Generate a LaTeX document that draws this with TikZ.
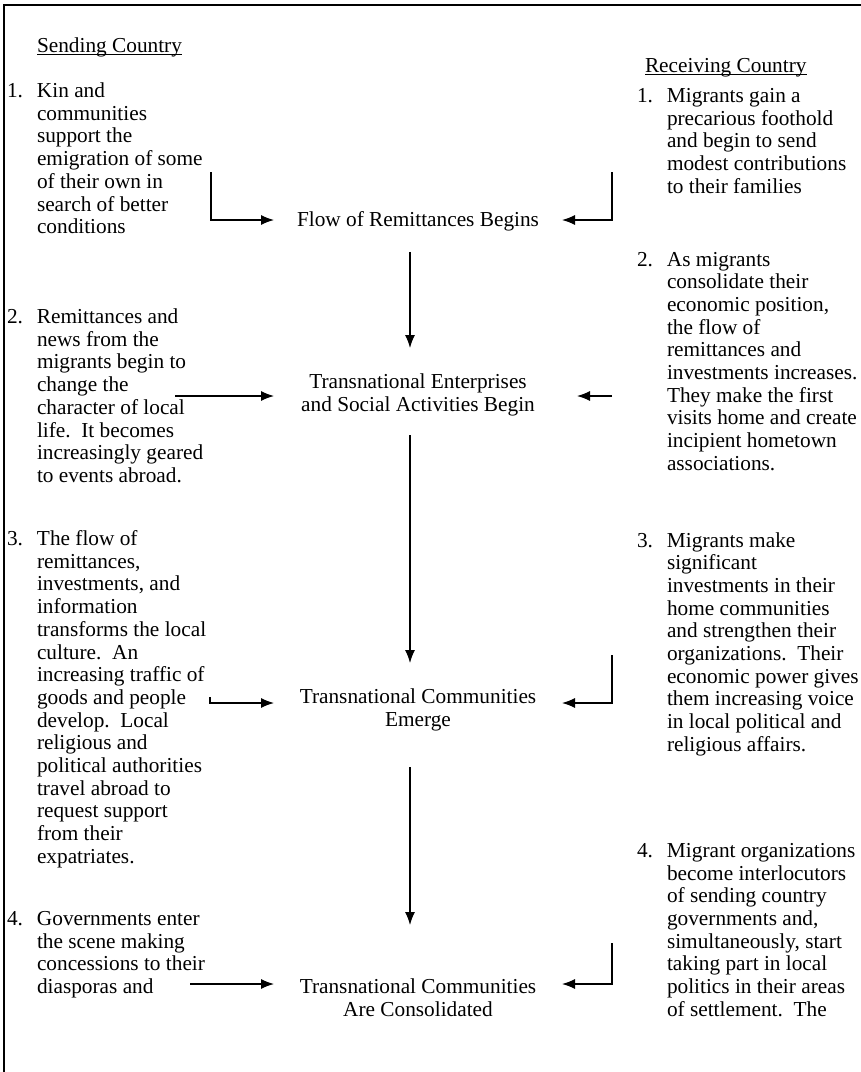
\documentclass[tikz,border=0pt]{standalone}
\usepackage{fontspec}
\setmainfont{Liberation Serif}
\usetikzlibrary{arrows.meta}
\newcommand{\bodyfont}{\fontsize{21.3}{22.7}\selectfont}
\begin{document}
\begin{tikzpicture}[x=1pt,y=-1pt,
  txt/.style={inner sep=0pt, outer sep=0pt, anchor=base west, font=\bodyfont},
  ctr/.style={inner sep=0pt, outer sep=0pt, anchor=base, minimum width=288pt, font=\bodyfont},
  arr/.style={line width=1.2pt, -{Latex[length=13pt,width=10pt]}},
  frameline/.style={line width=2pt}]
\useasboundingbox (0,0) rectangle (861,1072);
\fill[white] (0,0) rectangle (861,1072);
\draw[frameline] (4,1072) -- (4,5) -- (861,5);

% headings
\node[txt] (sc) at (37,52) {Sending Country};
\draw[line width=0.9pt] ([yshift=-2.5pt]sc.base west) -- ([yshift=-2.5pt]sc.base east);
\node[txt] (rc) at (645,72) {Receiving Country};
\draw[line width=0.9pt] ([yshift=-2.5pt]rc.base west) -- ([yshift=-2.5pt]rc.base east);

% left column
\node[txt] (l1) at (7,97.5) {\begin{tabular}[t]{@{}p{30pt}@{}l@{}}
1. & Kin and\\ & communities\\ & support the\\ & emigration of some\\ & of their own in\\ & search of better\\ & conditions\end{tabular}};
\node[txt] (l2) at (7,323.5) {\begin{tabular}[t]{@{}p{30pt}@{}l@{}}
2. & Remittances and\\ & news from the\\ & migrants begin to\\ & change the\\ & character of local\\ & life.\ \ It becomes\\ & increasingly geared\\ & to events abroad.\end{tabular}};
\node[txt] (l3) at (7,545.5) {\begin{tabular}[t]{@{}p{30pt}@{}l@{}}
3. & The flow of\\ & remittances,\\ & investments, and\\ & information\\ & transforms the local\\ & culture.\ \ An\\ & increasing traffic of\\ & goods and people\\ & develop.\ \ Local\\ & religious and\\ & political authorities\\ & travel abroad to\\ & request support\\ & from their\\ & expatriates.\end{tabular}};
\node[txt] (l4) at (7,925.5) {\begin{tabular}[t]{@{}p{30pt}@{}l@{}}
4. & Governments enter\\ & the scene making\\ & concessions to their\\ & diasporas and\end{tabular}};

% right column
\node[txt] (r1) at (637,102.5) {\begin{tabular}[t]{@{}p{30pt}@{}l@{}}
1. & Migrants gain a\\ & precarious foothold\\ & and begin to send\\ & modest contributions\\ & to their families\end{tabular}};
\node[txt] (r2) at (637,266) {\begin{tabular}[t]{@{}p{30pt}@{}l@{}}
2. & As migrants\\ & consolidate their\\ & economic position,\\ & the flow of\\ & remittances and\\ & investments increases.\\ & They make the first\\ & visits home and create\\ & incipient hometown\\ & associations.\end{tabular}};
\node[txt] (r3) at (637,547) {\begin{tabular}[t]{@{}p{30pt}@{}l@{}}
3. & Migrants make\\ & significant\\ & investments in their\\ & home communities\\ & and strengthen their\\ & organizations.\ \ Their\\ & economic power gives\\ & them increasing voice\\ & in local political and\\ & religious affairs.\end{tabular}};
\node[txt] (r4) at (637,857.4) {\begin{tabular}[t]{@{}p{30pt}@{}l@{}}
4. & Migrant organizations\\ & become interlocutors\\ & of sending country\\ & governments and,\\ & simultaneously, start\\ & taking part in local\\ & politics in their areas\\ & of settlement.\ \ The\end{tabular}};

% centre column
\node[ctr] (fr) at (418,226) {\begin{tabular}[t]{@{}c@{}}Flow of Remittances Begins\end{tabular}};
\node[ctr] (te) at (418,388.5) {\begin{tabular}[t]{@{}c@{}}Transnational Enterprises\\and Social Activities Begin\end{tabular}};
\node[ctr] (tce) at (418,703.5) {\begin{tabular}[t]{@{}c@{}}Transnational Communities\\Emerge\end{tabular}};
\node[ctr] (tcc) at (418,993.6) {\begin{tabular}[t]{@{}c@{}}Transnational Communities\\Are Consolidated\end{tabular}};

% side connectors
\coordinate (a1l) at (211,172); \coordinate (a1lb) at (211,220);
\draw[arr] (a1l) -- (a1lb) -- (a1lb -| fr.west);
\coordinate (a1r) at (612,172); \coordinate (a1rb) at (612,220);
\draw[arr] (a1r) -- (a1rb) -- (a1rb -| fr.east);

\coordinate (a2l) at (175,396);
\draw[arr] (a2l) -- (a2l -| te.west);
\coordinate (a2r) at (612,396);
\draw[arr, shorten >=15pt] (a2r) -- (a2r -| te.east);

\coordinate (a3l) at (210,697); \coordinate (a3lb) at (210,703);
\draw[arr] (a3l) -- (a3lb) -- (a3lb -| tce.west);
\coordinate (a3r) at (612,655); \coordinate (a3rb) at (612,703);
\draw[arr] (a3r) -- (a3rb) -- (a3rb -| tce.east);

\coordinate (a4l) at (190,984);
\draw[arr] (a4l) -- (a4l -| tcc.west);
\coordinate (a4r) at (612,943); \coordinate (a4rb) at (612,984);
\draw[arr] (a4r) -- (a4rb) -- (a4rb -| tcc.east);

% vertical connectors
\coordinate (vx) at (410,0);
\draw[arr, shorten <=19pt, shorten >=24.6pt] (fr.south -| vx) -- (te.north -| vx);
\draw[arr, shorten <=17pt, shorten >=24.6pt] (te.south -| vx) -- (tce.north -| vx);
\draw[arr, shorten <=34pt, shorten >=52.7pt] (tce.south -| vx) -- (tcc.north -| vx);
\end{tikzpicture}
\end{document}
